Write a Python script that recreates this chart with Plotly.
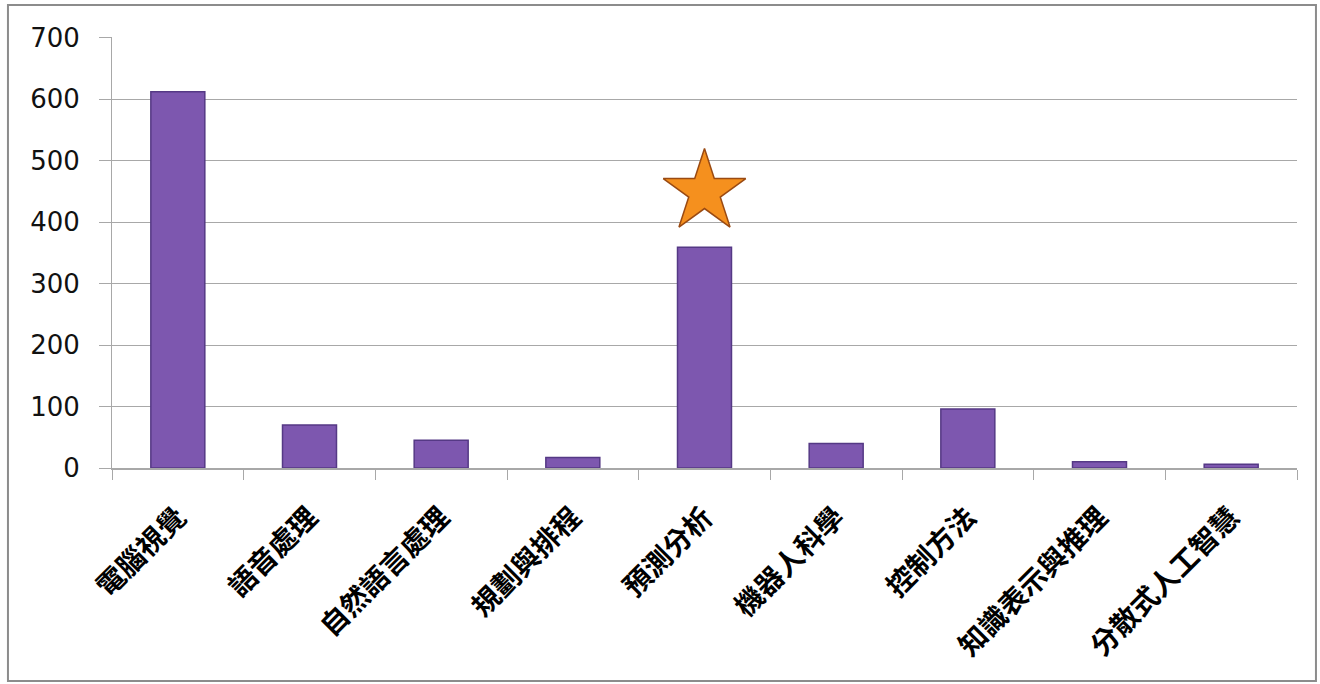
import plotly.graph_objects as go

# Application areas and counts
categories = ["電腦視覺", "語音處理", "自然語言處理", "規劃與排程", "預測分析",
              "機器人科學", "控制方法", "知識表示與推理", "分散式人工智慧"]
counts = [612, 70, 45, 17, 359, 40, 96, 10, 6]

# Highlighted category and the height of its star marker
highlight = "預測分析"
star_level = 449

y_ticks = [0, 100, 200, 300, 400, 500, 600, 700]

fig = go.Figure()

fig.add_trace(go.Bar(
    x=categories,
    y=counts,
    marker=dict(color="#7D57AF", line=dict(color="#553985", width=1.5)),
    width=0.41,
    hoverinfo="x+y",
))

fig.add_trace(go.Scatter(
    x=[highlight],
    y=[star_level],
    mode="markers",
    marker=dict(symbol="star", size=62, color="#F5901E",
                line=dict(color="#9A4A12", width=1.5)),
    hoverinfo="skip",
))

grid = "#A8A8A8"

fig.update_layout(
    width=1320,
    height=684,
    margin=dict(l=112, r=23, t=37, b=216),
    paper_bgcolor="white",
    plot_bgcolor="white",
    showlegend=False,
    font=dict(family="DejaVu Sans", color="#000000"),
    shapes=[dict(
        type="rect", xref="paper", yref="paper",
        x0=-0.0878, x1=1.016, y0=-0.494, y1=1.074,
        line=dict(color="#8C8C8C", width=2), fillcolor="rgba(0,0,0,0)",
        layer="below",
    )],
)

fig.update_yaxes(
    range=[0, 701],
    tickvals=y_ticks,
    ticktext=[str(v) for v in y_ticks],
    automargin=False,
    showgrid=True,
    gridcolor=grid,
    gridwidth=1,
    zeroline=False,
    showline=True,
    linecolor=grid,
    linewidth=1,
    ticks="outside",
    ticklen=12,
    tickcolor=grid,
    ticklabelstandoff=14,
    tickfont=dict(family="DejaVu Sans", size=26, color="#111111"),
)

fig.update_xaxes(
    categoryorder="array",
    categoryarray=categories,
    automargin=False,
    showline=True,
    linecolor=grid,
    linewidth=1.5,
    ticks="outside",
    tickson="boundaries",
    ticklen=10,
    tickcolor=grid,
    tickangle=-45,
    ticklabelstandoff=20,
    tickfont=dict(family="Noto Sans CJK TC", size=28, weight="bold",
                  color="#000000"),
    showgrid=False,
)

fig.write_html("out.html")
